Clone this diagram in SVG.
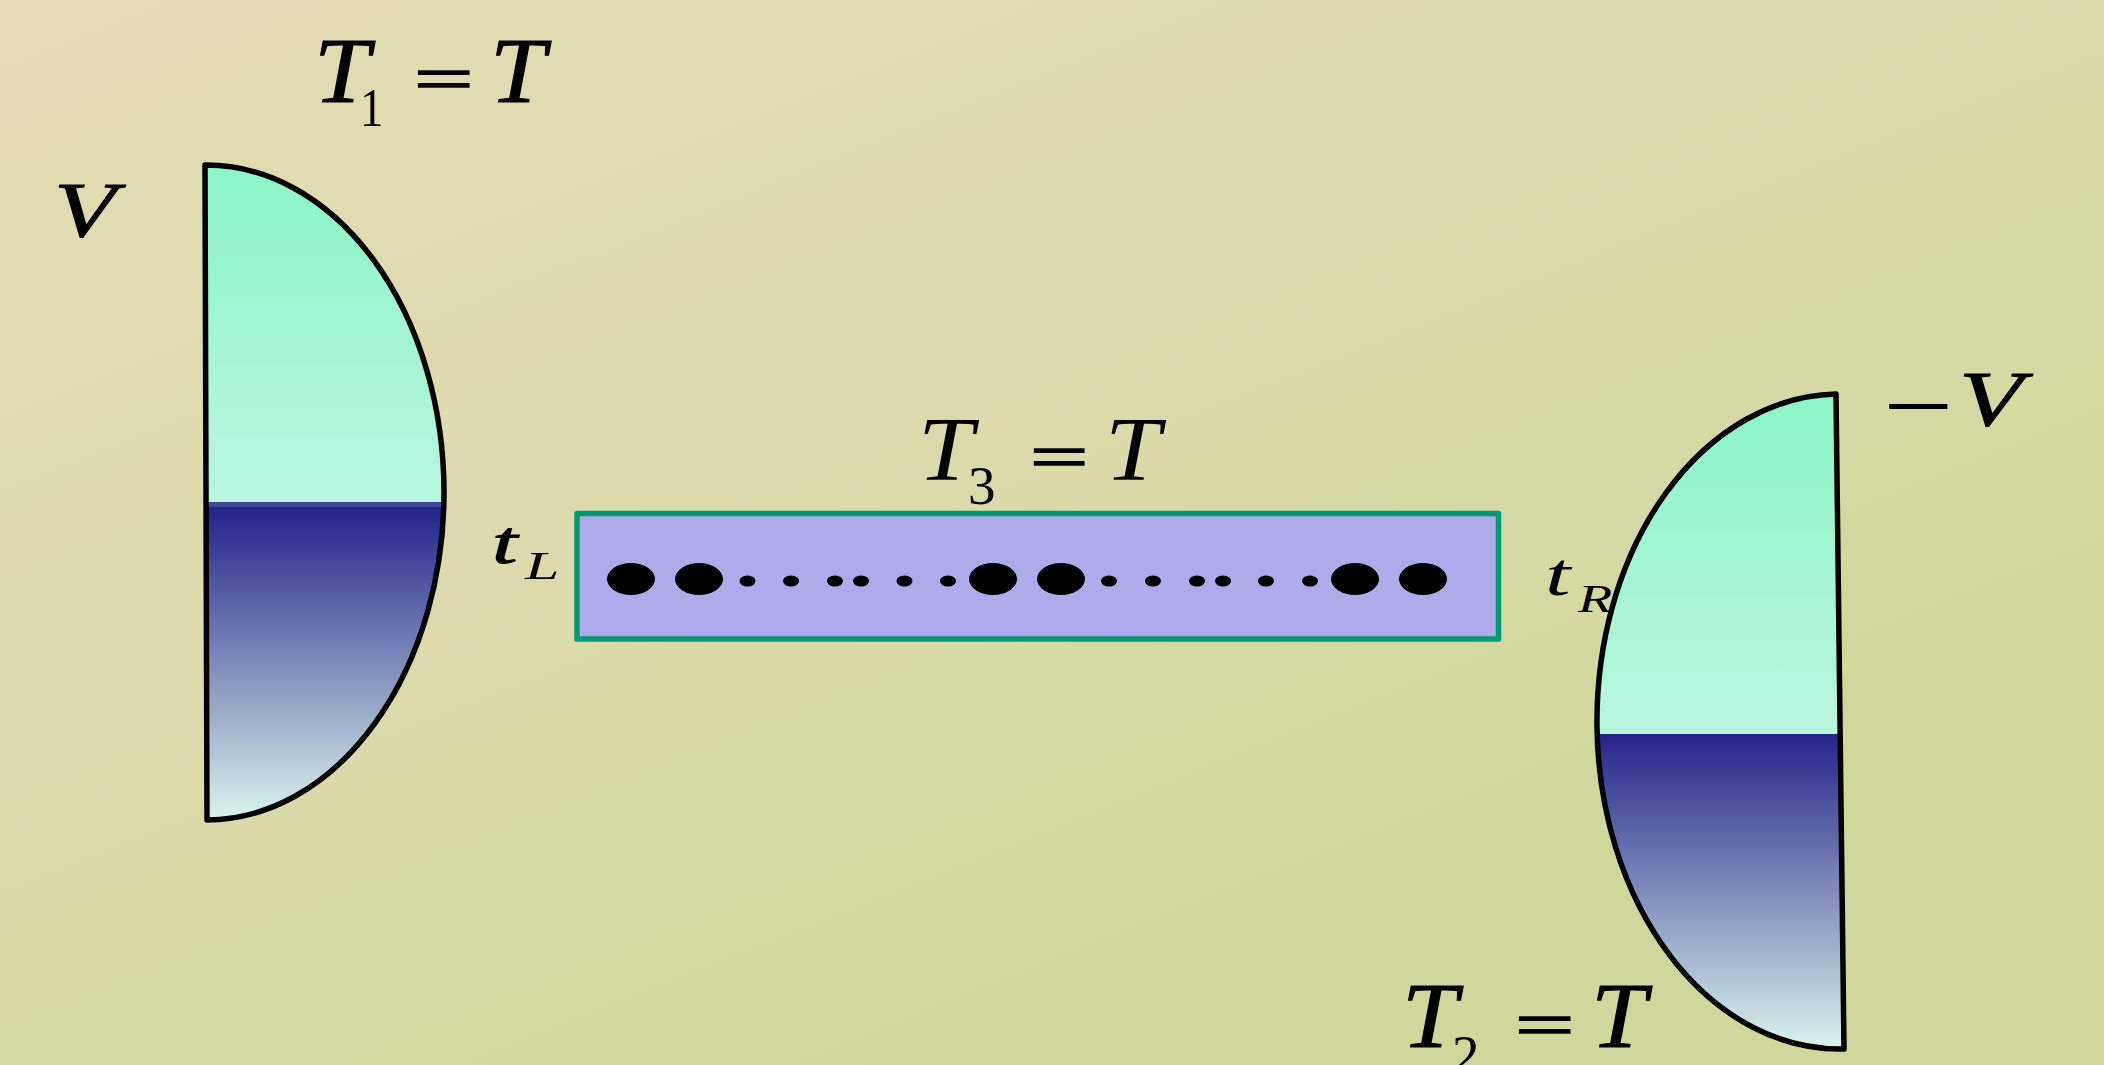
<svg xmlns="http://www.w3.org/2000/svg" width="2104" height="1065" viewBox="0 0 2104 1065">
<style>
.s{font-family:"Liberation Serif","Times New Roman",serif;fill:#000}
.bi{font-style:italic;stroke:#000;stroke-width:1}
.i{font-style:italic}
.eq{stroke:#000;stroke-width:2.4}
.res{stroke:#000;stroke-width:5.5;stroke-linejoin:round}
.big{fill:#000}
</style>
<defs>
<linearGradient id="bg" gradientUnits="userSpaceOnUse" x1="0" y1="0" x2="500" y2="1250">
<stop offset="0" stop-color="#e6dcba"/><stop offset="0.14" stop-color="#e1dbb2"/><stop offset="0.55" stop-color="#dcdaac"/><stop offset="0.78" stop-color="#d6d9a4"/><stop offset="1" stop-color="#cfd79a"/>
</linearGradient>
<linearGradient id="gl" gradientUnits="userSpaceOnUse" x1="0" y1="165" x2="0" y2="820">
<stop offset="0" stop-color="#8cf5c8"/><stop offset="0.5145" stop-color="#b8f6dd"/><stop offset="0.5145" stop-color="#45489a"/><stop offset="0.5221" stop-color="#45489a"/><stop offset="0.5221" stop-color="#232389"/><stop offset="1" stop-color="#d9f4ec"/>
</linearGradient>
<linearGradient id="gr" gradientUnits="userSpaceOnUse" x1="0" y1="394" x2="0" y2="1049">
<stop offset="0" stop-color="#8cf5c8"/><stop offset="0.519" stop-color="#b8f6dd"/><stop offset="0.519" stop-color="#252589"/><stop offset="1" stop-color="#d9f4ec"/>
</linearGradient>
</defs>
<rect id="background" width="2104" height="1065" fill="url(#bg)"/>
<g id="label-t1">
<text class="s bi" font-size="94" transform="translate(314,102) scale(1.06,1)">T</text>
<text class="s" font-size="55" transform="translate(360,126) scale(.85,1)">1</text>
<text class="s eq" font-size="94" transform="translate(414,100) scale(1.12,.68)">=</text>
<text class="s bi" font-size="94" transform="translate(490,102) scale(1.06,1)">T</text>
</g>
<g id="label-v"><text class="s bi" font-size="78" transform="translate(54,236) scale(1.3,1)">V</text></g>
<g id="label-t3">
<text class="s i" font-size="92" transform="translate(918,480) scale(1.08,1)">T</text>
<text class="s" font-size="55" x="968" y="504">3</text>
<text class="s eq" font-size="94" transform="translate(1030,478) scale(1.1,.68)">=</text>
<text class="s i" font-size="92" transform="translate(1105,480) scale(1.08,1)">T</text>
</g>
<g id="label-t2">
<text class="s bi" font-size="94" transform="translate(1402,1047) scale(1.06,1)">T</text>
<text class="s" font-size="55" x="1452" y="1073">2</text>
<text class="s eq" font-size="94" transform="translate(1515,1046) scale(1.12,.68)">=</text>
<text class="s bi" font-size="94" transform="translate(1591,1047) scale(1.06,1)">T</text>
</g>
<g id="label-minus-v"><text class="s" font-size="100" transform="translate(1883,440) scale(1.25,1)">−</text><text class="s bi" font-size="78" transform="translate(1959,425) scale(1.34,1)">V</text></g>
<g id="label-tl">
<text class="s bi" font-size="61" transform="translate(492,563) scale(1.5,1)">t</text>
<text class="s i" font-size="40" transform="translate(525,579) scale(1.55,1)">L</text>
</g>
<g id="label-tr">
<text class="s i" font-size="61" transform="translate(1545,595) scale(1.5,1)">t</text>
<text class="s i" font-size="40" transform="translate(1578,612) scale(1.4,1)">R</text>
</g>
<g id="reservoir-left">
<path class="res" fill="url(#gl)" d="M205,165 A238 327.5 0 0 1 207,820 Z"/>
</g>
<g id="reservoir-right">
<path class="res" fill="url(#gr)" d="M1836,394 A243 327.5 0 0 0 1844,1049 Z"/>
</g>
<g id="chain">
<rect x="577" y="513.5" width="921.5" height="125.5" fill="#adabea" stroke="#069873" stroke-width="5.5" stroke-linejoin="round"/>
<g class="big">
<ellipse cx="631" cy="579" rx="24" ry="16"/><ellipse cx="699" cy="579" rx="24" ry="16"/><ellipse cx="993" cy="579" rx="24" ry="16"/><ellipse cx="1061" cy="579" rx="24" ry="16"/><ellipse cx="1355" cy="579" rx="24" ry="16"/><ellipse cx="1423" cy="579" rx="24" ry="16"/>
<ellipse cx="747.5" cy="581" rx="8" ry="5.5"/><ellipse cx="791" cy="581" rx="8" ry="5.5"/><ellipse cx="835" cy="581" rx="8" ry="5.5"/><ellipse cx="861" cy="581" rx="8" ry="5.5"/><ellipse cx="904.5" cy="581" rx="8" ry="5.5"/><ellipse cx="948" cy="581" rx="8" ry="5.5"/>
<ellipse cx="1109" cy="581" rx="8" ry="5.5"/><ellipse cx="1153" cy="581" rx="8" ry="5.5"/><ellipse cx="1197" cy="581" rx="8" ry="5.5"/><ellipse cx="1223" cy="581" rx="8" ry="5.5"/><ellipse cx="1266" cy="581" rx="8" ry="5.5"/><ellipse cx="1310" cy="581" rx="8" ry="5.5"/>
</g>
</g>
</svg>
